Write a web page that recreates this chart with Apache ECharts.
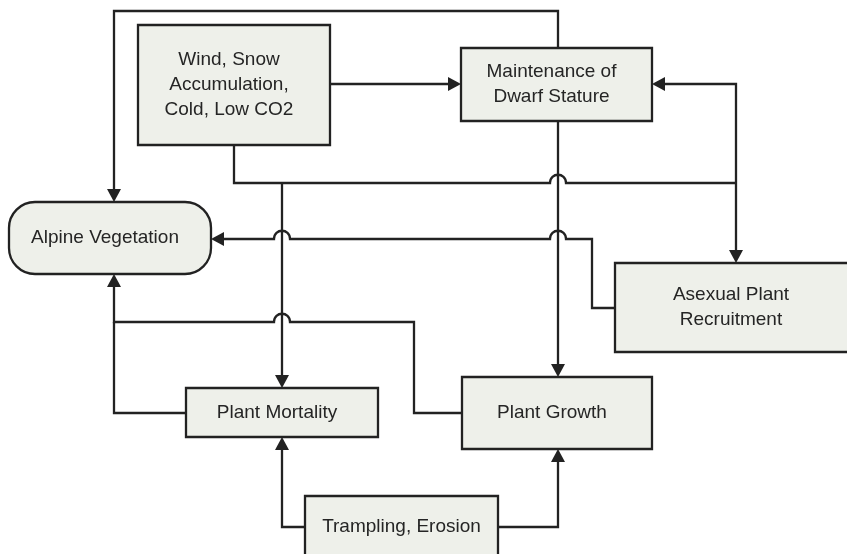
<!DOCTYPE html>
<html>
<head>
<meta charset="utf-8">
<script src="https://cdn.jsdelivr.net/npm/echarts@6/dist/echarts.min.js"></script>
<style>
  html, body { margin: 0; padding: 0; background: #fff; }
  #chart { width: 847px; height: 554px; }
</style>
</head>
<body>
<div id="chart"></div>
<script>
// boxes of the diagram (page units, y grows downward)
const boxNames = [
  'Wind, Snow\nAccumulation,\nCold, Low CO2',
  'Maintenance of\nDwarf Stature',
  'Alpine Vegetation',
  'Asexual Plant\nRecruitment',
  'Plant Mortality',
  'Plant Growth',
  'Trampling, Erosion'
];
const boxLeft   = [138, 461,   9, 615, 186, 462, 305];
const boxTop    = [ 25,  48, 202, 263, 388, 377, 496];
const boxRight  = [330, 652, 211, 852, 378, 652, 498];
const boxBottom = [145, 121, 274, 352, 437, 449, 562];
const boxRounded = [0, 0, 1, 0, 0, 0, 0];

// connectors: polylines, arrow flags and x positions where they hop over a crossing line
const linkPoints = [
  [[558, 48], [558, 11], [114, 11], [114, 202]],
  [[330, 84], [461, 84]],
  [[234, 145], [234, 183], [736, 183]],
  [[652, 84], [736, 84], [736, 263]],
  [[282, 183], [282, 388]],
  [[558, 121], [558, 377]],
  [[615, 308], [592, 308], [592, 239], [211, 239]],
  [[462, 413], [414, 413], [414, 322], [114, 322], [114, 274]],
  [[186, 413], [114, 413], [114, 322]],
  [[305, 527], [282, 527], [282, 437]],
  [[498, 527], [558, 527], [558, 449]]
];
const linkArrowStart = [0, 0, 0, 1, 0, 0, 0, 0, 0, 0, 0];
const linkArrowEnd   = [1, 1, 0, 1, 1, 1, 1, 1, 0, 1, 1];
const linkHops = [[], [], [558], [], [], [], [558, 282], [282], [], [], []];

const INK = '#222222';
const FILL = '#eef0ea';
const ARROW_LEN = 13;
const ARROW_HALF = 7;
const HOP_R = 8;

function arrowHead(tip, from) {
  const dx = tip[0] - from[0], dy = tip[1] - from[1];
  const len = Math.sqrt(dx * dx + dy * dy) || 1;
  const ux = dx / len, uy = dy / len;
  const bx = tip[0] - ux * ARROW_LEN, by = tip[1] - uy * ARROW_LEN;
  return {
    base: [bx, by],
    el: {
      type: 'polygon',
      shape: { points: [tip, [bx - uy * ARROW_HALF, by + ux * ARROW_HALF], [bx + uy * ARROW_HALF, by - ux * ARROW_HALF]] },
      style: { fill: INK }
    }
  };
}

function renderLink(params, api) {
  const i = params.dataIndex;
  const pts = linkPoints[i].map(p => api.coord(p));
  const hops = linkHops[i].map(x => api.coord([x, 0])[0]);
  const children = [];
  let start = pts[0], end = pts[pts.length - 1];
  if (linkArrowStart[i]) {
    const a = arrowHead(pts[0], pts[1]);
    children.push(a.el);
    start = a.base;
  }
  if (linkArrowEnd[i]) {
    const a = arrowHead(pts[pts.length - 1], pts[pts.length - 2]);
    children.push(a.el);
    end = a.base;
  }
  const line = pts.slice();
  line[0] = start;
  line[line.length - 1] = end;

  let d = 'M' + line[0][0] + ' ' + line[0][1];
  for (let k = 1; k < line.length; k++) {
    const p = line[k - 1], q = line[k];
    if (Math.abs(p[1] - q[1]) < 0.5) {
      const dir = q[0] > p[0] ? 1 : -1;
      const cross = hops
        .filter(x => (x - p[0]) * dir > HOP_R && (q[0] - x) * dir > HOP_R)
        .sort((a, b) => (a - b) * dir);
      cross.forEach(x => {
        const y = p[1];
        const x0 = x - dir * HOP_R, x1 = x + dir * HOP_R;
        d += ' L' + x0 + ' ' + y;
        d += ' C' + x0 + ' ' + (y - 11) + ' ' + x1 + ' ' + (y - 11) + ' ' + x1 + ' ' + y;
      });
    }
    d += ' L' + q[0] + ' ' + q[1];
  }
  children.unshift({
    type: 'path',
    shape: { pathData: d },
    style: { fill: 'none', stroke: INK, lineWidth: 2.3 }
  });
  return { type: 'group', children: children };
}

function renderBox(params, api) {
  const i = params.dataIndex;
  const tl = api.coord([boxLeft[i], boxTop[i]]);
  const br = api.coord([boxRight[i], boxBottom[i]]);
  const w = br[0] - tl[0], h = br[1] - tl[1];
  // labels sit a little left of centre in the original; the bottom box is cut off
  const cx = i === 6 ? tl[0] + w / 2 : (i === 3 ? 731 : tl[0] + w / 2 - 5);
  const cy = i === 6 ? tl[1] + 31 : tl[1] + h / 2;
  return {
    type: 'group',
    children: [
      {
        type: 'rect',
        shape: { x: tl[0], y: tl[1], width: w, height: h, r: boxRounded[i] ? 26 : 0 },
        style: { fill: FILL, stroke: INK, lineWidth: 2.3 }
      },
      {
        type: 'text',
        style: {
          text: boxNames[i],
          x: cx,
          y: cy,
          align: 'center',
          verticalAlign: 'middle',
          fontFamily: '"Liberation Sans", Arial, sans-serif',
          fontSize: 19,
          lineHeight: 25,
          fill: '#252525'
        }
      }
    ]
  };
}

const chart = echarts.init(document.getElementById('chart'), null, { renderer: 'canvas' });
chart.setOption({
  animation: false,
  backgroundColor: '#ffffff',
  grid: { left: 0, right: 0, top: 0, bottom: 0 },
  xAxis: { type: 'value', min: 0, max: 847, show: false },
  yAxis: { type: 'value', min: 0, max: 554, inverse: true, show: false },
  series: [
    {
      type: 'custom',
      coordinateSystem: 'cartesian2d',
      data: linkPoints.map((p, i) => [p[0][0], p[0][1], i]),
      renderItem: renderLink,
      clip: false,
      silent: true
    },
    {
      type: 'custom',
      coordinateSystem: 'cartesian2d',
      data: boxNames.map((n, i) => [boxLeft[i], boxTop[i], i]),
      renderItem: renderBox,
      clip: false,
      silent: true
    }
  ]
});
</script>
</body>
</html>
